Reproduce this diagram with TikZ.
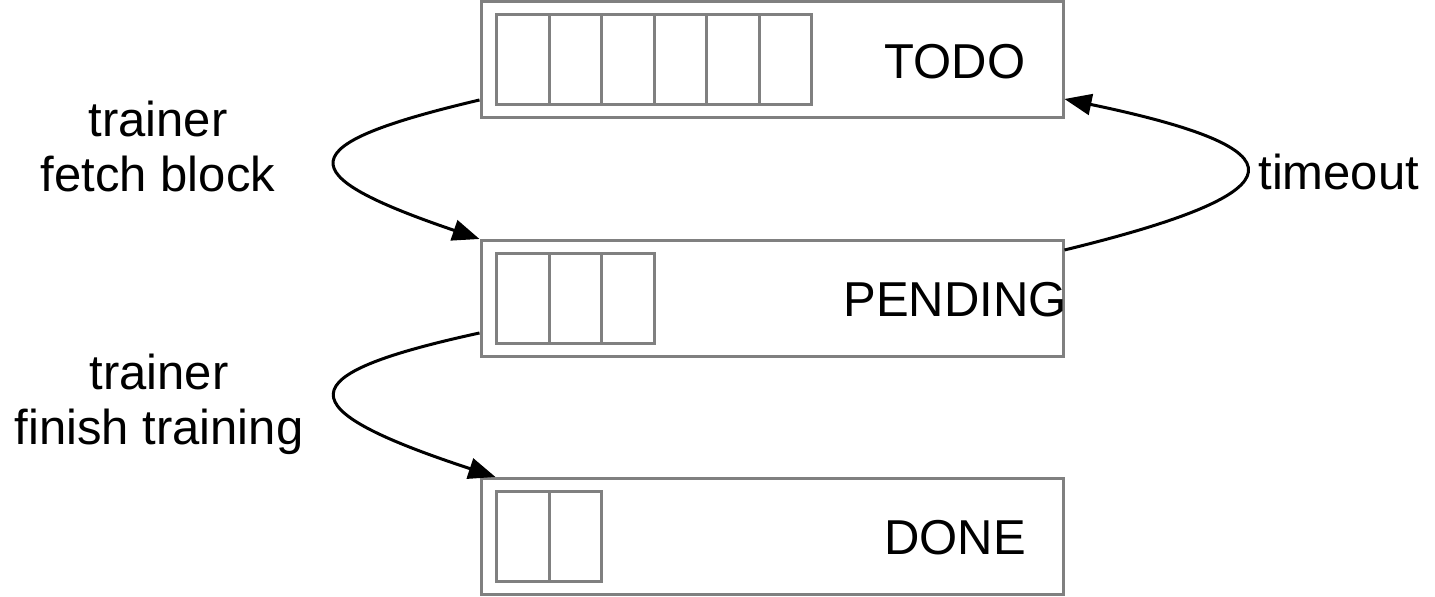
\documentclass[tikz,border=0pt]{standalone}
\usepackage{fontspec}
\setmainfont{Liberation Sans}
\usetikzlibrary{arrows.meta, calc, positioning}
\definecolor{mainBlack}{gray}{0}
\definecolor{boxGray}{gray}{0.5}

\begin{document}
\begin{tikzpicture}[x=0.5pt, y=-0.5pt, >={Triangle[length=13.5pt, width=10.5pt]},
    queue/.style={draw=boxGray, line width=1.5pt, minimum width=291pt, minimum height=58pt, inner sep=0pt},
    cell/.style={draw=boxGray, line width=1.5pt, minimum width=26.25pt, minimum height=45pt, inner sep=0pt},
    qlabel/.style={anchor=base, inner sep=0pt},
    flow/.style={->, line width=1.5pt, mainBlack}]
    \useasboundingbox (0,0) rectangle (1435,597);
    \fontsize{24.5}{27.5}\selectfont

    % Queues with their blocks
    \foreach \name/\txt/\y/\n in {todo/TODO/60/6, pending/PENDING/298.5/3, done/DONE/536.5/2} {
        \node[queue] (\name) at (772,\y) {};
        \node[qlabel] (\name-txt) at ([xshift=91.5pt, yshift=-9.25pt]\name.center) {\txt};
        \foreach \i in {1,...,\n}
            \node[cell] (\name-\i) at ($(\name.west)+({17+52.5*(\i-0.5)},0)$) {};
    }

    % Transitions
    \draw[flow] ([yshift=-20pt]todo.west) .. controls +(-191,45) and +(-191,-65) .. (pending.north west);
    \draw[flow] ([yshift=-17.25pt]pending.west) .. controls +(-193,42) and +(-210,-69) .. ([xshift=8pt]done.north west);
    \draw[flow] ([yshift=24.25pt]pending.east) .. controls +(242,-59) and +(240,50) .. ([yshift=-19.5pt]todo.east);

    % Labels
    \node[align=center, inner sep=0pt] (fetch) at (158,146) {trainer\\fetch block};
    \node[align=center, inner sep=0pt] (finish) at (159,404) {trainer\\finish training};
    \node[anchor=base west, inner sep=0pt] (timeout) at (1258,190) {timeout};
\end{tikzpicture}
\end{document}
